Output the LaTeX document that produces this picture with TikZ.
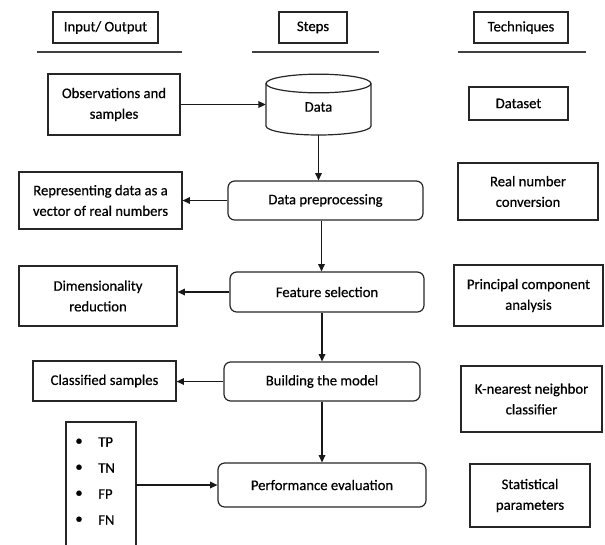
\documentclass[tikz,border=0pt]{standalone}
\usepackage{fontspec}
\setmainfont{Carlito}
\newfontfamily\mfont{Carlito}[FakeBold=0.5]
\usetikzlibrary{arrows.meta,calc}
\tikzset{
  txt/.style={font=\mfont\fontsize{11pt}{15.5pt}\selectfont, align=center, text=black},
  span/.style n args={4}{minimum width={(#3-#1)*0.75pt}, minimum height={(#4-#2)*0.75pt},
     at={({(#1+#3)/2},{(#2+#4)/2})}},
  box/.style={txt, draw=black!85, line width=0.9pt, inner sep=0pt},
  rbox/.style={box, rounded corners=5pt},
  ghost/.style={txt, inner sep=0pt},
  arr/.style={draw=black!90, line width=0.9pt, -{Triangle[length=5.5pt,width=5pt]}},
  hline/.style={draw=black!75, line width=1.1pt},
}
\begin{document}
\begin{tikzpicture}[x=0.75pt,y=-0.75pt]
\useasboundingbox (0,0) rectangle (605,544);
% headers
\node[box, span={53}{12}{158}{43}] (h1) {Input/ Output};
\node[box, span={279}{12}{347}{43}] (h2) {Steps};
\node[box, span={474}{12}{568}{43}] (h3) {Techniques};
\draw[hline] (37,52) -- (182,52);
\draw[hline] (252,52) -- (379,52);
\draw[hline] (458,52) -- (586,52);
% left column
\node[box, span={48}{74}{180}{135}] (obs) {Observations and\\samples};
\node[box, span={19}{172}{182}{229}] (rep) {Representing data as a\\vector of real numbers};
\node[box, span={19}{266}{177}{326}] (dim) {Dimensionality\\reduction};
\node[box, span={33}{361}{176}{401}] (cls) {Classified samples};
\draw[draw=black!85, line width=0.9pt] (66,546) -- (66,422) -- (136,422) -- (136,546);
\node[ghost, span={66}{422}{136}{544}] (met) {};
\node[ghost] (b1) at (79,442) {\textbullet};
\node[ghost] (b2) at (79,468) {\textbullet};
\node[ghost] (b3) at (79,494) {\textbullet};
\node[ghost] (b4) at (79,520) {\textbullet};
\node[ghost, anchor=west] (t1) at (98,442) {TP};
\node[ghost, anchor=west] (t2) at (98,468) {TN};
\node[ghost, anchor=west] (t3) at (98,494) {FP};
\node[ghost, anchor=west] (t4) at (98,520) {FN};
% middle column
\draw[draw=black!85, line width=0.9pt] (266,83.5) -- (266,126) arc[start angle=180, end angle=360, x radius=39.375pt, y radius=6.75pt] -- (371,83.5);
\draw[draw=black!85, line width=0.9pt] (318.5,83.5) ellipse [x radius=39.375pt, y radius=7pt];
\node[ghost, span={266}{83.5}{371}{135}] (data) {};
\node[ghost] (datat) at (318.5,107) {Data};
\node[rbox, span={228}{181}{423}{220}] (dp) {Data preprocessing};
\node[rbox, span={230}{272}{424}{312}] (fs) {Feature selection};
\node[rbox, span={224}{362}{420}{401}] (bm) {Building the model};
\node[rbox, span={218}{463}{426}{507}] (pe) {Performance evaluation};
% right column
\node[box, span={469}{87}{568}{120}] (ds) {Dataset};
\node[box, span={458}{163}{598}{220}] (rn) {Real number\\conversion};
\node[box, span={454}{265}{603}{326}] (pca) {Principal component\\analysis};
\node[box, span={461}{366}{602}{432}] (knn) {K-nearest neighbor\\classifier};
\node[box, span={470}{464}{590}{527}] (st) {Statistical\\parameters};
% connectors
\draw[arr] (obs.east) -- (obs.east -| data.west);
\draw[arr] (data.south) -- (data.south |- dp.north);
\draw[arr] ([xshift=-3pt]dp.south) -- ([xshift=-3pt]dp.south |- fs.north);
\draw[arr] (fs.south -| bm.north) -- (bm.north);
\draw[arr] (bm.south) -- (bm.south |- pe.north);
\draw[arr] (dp.west) -- (dp.west -| rep.east);
\draw[arr] (fs.west) -- (fs.west -| dim.east);
\draw[arr] (bm.west) -- (bm.west -| cls.east);
\draw[arr] (pe.west -| met.east) -- (pe.west);
\end{tikzpicture}
\end{document}
